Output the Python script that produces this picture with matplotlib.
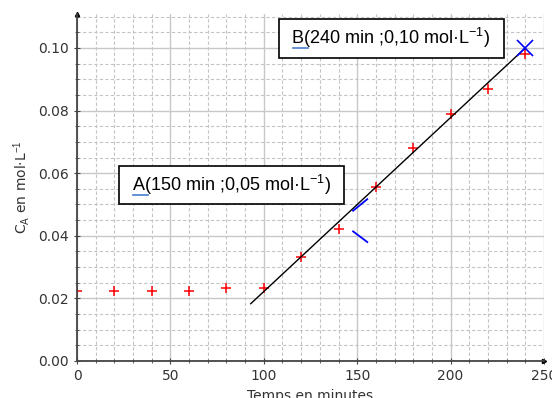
import matplotlib
matplotlib.use('Agg')
import matplotlib.pyplot as plt
from matplotlib.ticker import MultipleLocator, FormatStrFormatter

plt.rcParams['mathtext.fontset'] = 'custom'
plt.rcParams['mathtext.rm'] = 'Liberation Sans'
plt.rcParams['mathtext.it'] = 'Liberation Sans'

# mesures
temps = [0, 20, 40, 60, 80, 100, 120, 140, 160, 180, 200, 220, 240]
conc = [0.0222, 0.0222, 0.0222, 0.0222, 0.0232, 0.0232, 0.0333, 0.0421,
        0.0557, 0.0680, 0.0788, 0.0868, 0.0980]

# tangente / droite
droite_t = [93, 240]
droite_c = [0.0183, 0.100]

point_A = (150, 0.05)
point_B = (240, 0.10)
traits_A = [([147.8, 155.4], [0.0480, 0.0517]),
            ([147.8, 155.4], [0.0414, 0.0380])]

label_A = ' A(150 min ;0,05 mol·L$^{-1}$)  '
label_B = ' B(240 min ;0,10 mol·L$^{-1}$)  '

fig = plt.figure(figsize=(5.52, 3.98), dpi=100)
ax = fig.add_axes([0.1395, 0.093, 0.846, 0.873])

ax.set_xlim(0, 250)
ax.set_ylim(0, 0.111)
ax.xaxis.set_major_locator(MultipleLocator(50))
ax.xaxis.set_minor_locator(MultipleLocator(10))
ax.yaxis.set_major_locator(MultipleLocator(0.02))
ax.yaxis.set_minor_locator(MultipleLocator(0.005))
ax.yaxis.set_major_formatter(FormatStrFormatter('%.2f'))

ax.grid(which='major', color='#c8c8c8', lw=1.0, ls='-')
ax.grid(which='minor', color='#c4c4c4', lw=0.8, ls=(0, (3, 2)))
ax.set_axisbelow(True)

for s in ['top', 'right']:
    ax.spines[s].set_visible(False)
for s in ['left', 'bottom']:
    ax.spines[s].set_color('#444444')
    ax.spines[s].set_linewidth(1.3)
ax.tick_params(which='major', direction='inout', length=5, colors='#444444',
               labelsize=10, labelcolor='#333333')
ax.tick_params(which='minor', direction='inout', length=3, color='#444444')

# fleches au bout des axes
ax.plot(1, 0, '>', color='k', ms=3, transform=ax.transAxes, clip_on=False)
ax.plot(0, 1, '^', color='k', ms=3, transform=ax.transAxes, clip_on=False)

ax.plot(temps, conc, '+', color='red', ms=7, mew=1.1)
ax.plot(droite_t, droite_c, color='black', lw=1.0)
ax.plot(*point_B, 'x', color='blue', ms=11, mew=1.2)
for xs, ys in traits_A:
    ax.plot(xs, ys, color='blue', lw=1.3)

ax.set_xlabel('Temps en minutes', color='#333333', fontsize=10)
ax.set_ylabel('C$_\\mathregular{A}$ en mol·L$^{-1}$', color='#333333',
              fontsize=10, family='DejaVu Sans')

box = dict(boxstyle='square,pad=0.4', fc='white', ec='black', lw=1.2)
tA = ax.text(26.5, 0.0562, label_A, fontsize=13, family='Liberation Sans',
             va='center', ha='left', bbox=box)
tB = ax.text(112.1, 0.1031, label_B, fontsize=13, family='Liberation Sans',
             va='center', ha='left', bbox=box)

# soulignement bleu des lettres A et B
fig.canvas.draw()
r = fig.canvas.get_renderer()
inv = ax.transData.inverted()
for t, lettre in [(tA, 'A'), (tB, 'B')]:
    x0, y0 = t.get_position()
    tmp = ax.text(x0, y0, ' ' + lettre, fontsize=13, family='Liberation Sans',
                  va='center', ha='left')
    bb = tmp.get_window_extent(r)
    tmp.remove()
    tmp = ax.text(x0, y0, lettre, fontsize=13, family='Liberation Sans',
                  va='center', ha='left')
    wl = tmp.get_window_extent(r).width
    tmp.remove()
    (xa, ya), (xb, yb) = inv.transform([(bb.x1 - wl + 2, bb.y0 - 1.5), (bb.x1 + 5, bb.y0 - 1.5)])
    ax.plot([xa, xb], [ya, ya], color='#4a7fd0', lw=1.2, zorder=5)

fig.savefig('out.png', dpi=100)
